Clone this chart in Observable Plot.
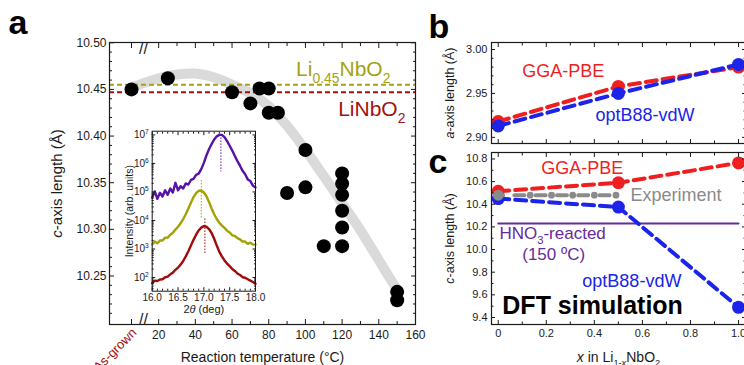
<!DOCTYPE html>
<html><head><meta charset="utf-8">
<script src="https://cdn.jsdelivr.net/npm/d3@7"></script>
<script src="https://cdn.jsdelivr.net/npm/@observablehq/plot@0.6"></script>
<style>
html,body{margin:0;padding:0;background:#fff;}
#fig{position:relative;width:744px;height:365px;overflow:hidden;background:#fff;}
#fig > svg{position:absolute;}
</style></head><body><div id="fig"></div>
<script>
// ---------- Panel a: c-axis length vs reaction temperature ----------
const asGrownT = 5.2;      // position of the "As-grown" sample on the broken axis
const breakT = 11.7;       // axis break marker
const tempC = [5.2, 25, 60, 70, 75, 80, 80, 85, 90, 100, 100, 110, 120, 120, 120, 120, 120, 120, 150, 150];
const cLen  = [10.450, 10.462, 10.447, 10.435, 10.451, 10.451, 10.425, 10.425, 10.339, 10.385, 10.345, 10.282, 10.360, 10.349, 10.337, 10.320, 10.302, 10.282, 10.233, 10.224];
const bandT = [5.2, 20, 30, 40, 50, 60, 70, 80, 90, 100, 110, 120, 130, 140, 150];
const bandC = [10.452, 10.462, 10.466, 10.467, 10.463, 10.455, 10.446, 10.432, 10.411, 10.385, 10.357, 10.328, 10.299, 10.267, 10.235];
const li045Level = 10.455;
const linbo2Level = 10.447;
const aXLabels = [20, 40, 60, 80, 100, 120, 140, 160];
const aXMajor = [5.2, 20, 40, 60, 80, 100, 120, 140, 160];
const aXMinor = [30, 50, 70, 90, 110, 130, 150];
const aYLabels = [10.25, 10.30, 10.35, 10.40, 10.45, 10.50];

// ---------- Inset: XRD peaks (log10 intensity) ----------
const theta = [16.00,16.05,16.10,16.15,16.20,16.25,16.30,16.35,16.40,16.45,16.50,16.55,16.60,16.65,16.70,16.75,16.80,16.85,16.90,16.95,17.00,17.05,17.10,17.15,17.20,17.25,17.30,17.35,17.40,17.45,17.50,17.55,17.60,17.65,17.70,17.75,17.80,17.85,17.90,17.95,18.00];
const logPurple = [4.80,5.02,4.76,4.97,4.84,5.06,4.90,5.12,4.98,5.32,5.06,5.20,5.12,5.30,5.26,5.42,5.46,5.60,5.64,5.80,6.02,6.28,6.50,6.68,6.84,6.95,7.00,7.00,6.92,6.78,6.62,6.45,6.26,6.08,5.92,5.74,5.62,5.44,5.38,5.22,5.16];
const logOlive  = [3.16,3.26,3.20,3.30,3.30,3.40,3.40,3.50,3.57,3.68,3.78,3.90,4.05,4.22,4.42,4.62,4.82,4.96,5.04,5.05,4.98,4.85,4.65,4.42,4.22,4.05,3.92,3.82,3.74,3.64,3.58,3.48,3.46,3.38,3.34,3.26,3.26,3.18,3.22,3.16,3.15];
const logRed    = [1.80,1.89,1.88,1.93,1.94,2.01,2.03,2.11,2.17,2.27,2.35,2.45,2.58,2.74,2.92,3.12,3.32,3.50,3.65,3.75,3.80,3.78,3.70,3.56,3.36,3.12,2.90,2.74,2.60,2.49,2.40,2.30,2.23,2.14,2.09,2.01,1.99,1.94,1.89,1.84,1.78];
const peakTheta = [17.33, 16.95, 17.02];
const peakTop = [7.0, 5.4, 4.05];
const peakBottom = [5.7, 4.07, 2.8];
const insetXLabels = [16.0, 16.5, 17.0, 17.5, 18.0];
const insetDecades = [2, 3, 4, 5, 6, 7];

// ---------- Panels b, c: DFT vs x in Li1-xNbO2 ----------
const xDFT = [0, 0.5, 1.0];
const aGGA = [2.918, 2.958, 2.980];
const aOpt = [2.913, 2.950, 2.983];
const cGGA = [10.515, 10.59, 10.765];
const cOpt = [10.45, 10.375, 9.49];
const expX = [0, 0.5];
const expLevel = 10.48;
const expDotX = [0.133, 0.222, 0.31, 0.40, 0.49];
const hno3X = [0, 1.0];
const hno3Level = 10.23;
const bcXLabels = [0, 0.2, 0.4, 0.6, 0.8, 1.0];
const bcXMinor = [0.1, 0.3, 0.5, 0.7, 0.9];
const bYLabels = [2.90, 2.95, 3.00];
const cYLabels = [9.4, 9.6, 9.8, 10.0, 10.2, 10.4, 10.6, 10.8];
const cYMinor = [9.5, 9.7, 9.9, 10.1, 10.3, 10.5, 10.7];

// ---------- styling ----------
const FONT = "'Liberation Sans', Arial, Helvetica, sans-serif";
const INK = "#1a1a1a";
const OLIVE = "#a3a312", DKRED = "#a3100f", RED = "#ef1f1f", BLUE = "#1b24e8",
      GRAY = "#8a8a8a", PURPLE = "#672a9e", XPURPLE = "#5712a6", XOLIVE = "#a2a200", XRED = "#a00b0b";

const r2 = v => Math.round(v * 100) / 100;
const aYMinor = d3.range(10.21, 10.495, 0.01).map(r2).filter(v => Math.round(v * 100) % 5 !== 0);
const bYMinor = d3.range(2.91, 2.995, 0.01).map(r2).filter(v => Math.round(v * 100) % 5 !== 0);
const insetXMinor = d3.range(16.1, 17.95, 0.1).map(v => Math.round(v * 10) / 10).filter(v => Math.round(v * 10) % 5 !== 0);
const insetYMajor = insetDecades.map(n => 10 ** n);
const insetYMinor = [];
for (let n = 1; n <= 6; n++) for (let k = 2; k <= 9; k++) { const v = k * 10 ** n; if (v > 10 ** 1.52) insetYMinor.push(v); }

function tickMarks(k, values, len, anchors) {
  const f = k === "x" ? Plot.axisX : Plot.axisY;
  return anchors.map(anchor => f(values, {anchor, tickSize: -len, fill: "none", label: null, stroke: INK, strokeWidth: 1}));
}
function tickLabels(k, values, anchor, pad, fmt, fontSize) {
  const f = k === "x" ? Plot.axisX : Plot.axisY;
  return f(values, {anchor, tickSize: 0, tickPadding: pad, tickFormat: fmt, label: null, fontSize, fill: INK});
}
const baseStyle = {fontFamily: FONT, fontSize: "12px", color: INK, background: "transparent", overflow: "visible"};

// rich text: segments "flags:text" joined by "|" ; s=sub, p=super, i=italic
function rich(svg) {
  d3.select(svg).selectAll("text").each(function () {
    const s = this.textContent;
    if (!s.includes("|")) return;
    const fs = parseFloat(getComputedStyle(this).fontSize) || 12;
    const sel = d3.select(this);
    sel.text(null);
    let shift = 0;
    for (const seg of s.split("|")) {
      const k = seg.indexOf(":");
      const flags = seg.slice(0, k), txt = seg.slice(k + 1);
      const t = sel.append("tspan").text(txt);
      let target = 0;
      if (flags.includes("s")) { target = 0.3 * fs; t.attr("font-size", 0.66 * fs); }
      if (flags.includes("p")) { target = -0.4 * fs; t.attr("font-size", 0.66 * fs); }
      if (flags.includes("i")) t.attr("font-style", "italic");
      if (target !== shift) { t.attr("dy", target - shift); shift = target; }
    }
  });
}

const fig = document.getElementById("fig");
function place(svg, left, top) {
  svg.style.left = left + "px"; svg.style.top = top + "px";
  fig.appendChild(svg); rich(svg);
}

// ---------- Panel a ----------
const ptsA = tempC.map((t, i) => ({t, c: cLen[i]}));
const bandA = bandT.map((t, i) => ({t, c: bandC[i]}));
const plotA = Plot.plot({
  width: 430, height: 365, marginLeft: 109, marginRight: 15, marginTop: 42, marginBottom: 41,
  style: baseStyle,
  x: {type: "linear", domain: [-6.8, 160]},
  y: {type: "linear", domain: [10.198, 10.5003]},
  marks: [
    Plot.line(bandA, {x: "t", y: "c", stroke: "#dadada", strokeWidth: 10, curve: "catmull-rom"}),
    Plot.ruleY([li045Level], {stroke: OLIVE, strokeWidth: 2, strokeDasharray: "5,3"}),
    Plot.ruleY([linbo2Level], {stroke: DKRED, strokeWidth: 2, strokeDasharray: "5,3"}),
    Plot.dot(ptsA, {x: "t", y: "c", r: 7, fill: "black"}),
    Plot.frame({stroke: INK, strokeWidth: 1.2}),
    ...tickMarks("x", aXMajor, 5, ["bottom", "top"]),
    ...tickMarks("x", aXMinor, 3, ["bottom", "top"]),
    ...tickMarks("y", aYLabels, 5, ["left", "right"]),
    ...tickMarks("y", aYMinor, 3, ["left", "right"]),
    tickLabels("x", aXLabels, "bottom", 6, d => String(d), 12),
    tickLabels("y", aYLabels, "left", 3, d => d.toFixed(2), 12),
    Plot.text(["//"], {x: [breakT], frameAnchor: "bottom", fontSize: 16, fill: INK}),
    Plot.text(["//"], {x: [breakT], frameAnchor: "top", fontSize: 16, fill: INK}),
    Plot.text(["As-grown"], {x: [asGrownT], frameAnchor: "bottom", rotate: -45, textAnchor: "end", lineAnchor: "middle", dx: 3, dy: 6, fontSize: 13, fill: DKRED}),
    Plot.text([":Li|s:0.45|:NbO|s:2"], {x: [146.3], y: [10.464], textAnchor: "end", lineAnchor: "bottom", fontSize: 21, fill: OLIVE}),
    Plot.text([":LiNbO|s:2"], {x: [154.5], y: [10.421], textAnchor: "end", lineAnchor: "bottom", fontSize: 21, fill: DKRED}),
    Plot.text(["i:c|:-axis length (Å)"], {frameAnchor: "left", dx: -52, rotate: -90, textAnchor: "middle", fontSize: 15, fill: INK}),
    Plot.text(["Reaction temperature (°C)"], {frameAnchor: "bottom", dy: 37, textAnchor: "middle", lineAnchor: "bottom", fontSize: 14, fill: INK}),
    Plot.text(["a"], {frameAnchor: "top-left", dx: -101, dy: -9, textAnchor: "start", lineAnchor: "bottom", fontSize: 34, fontWeight: "bold", fill: "black"})
  ]
});
place(plotA, 0, 0);

// ---------- Inset ----------
const mk = arr => theta.map((t, i) => ({t, v: 10 ** arr[i]}));
const peaks = peakTheta.map((t, i) => ({t, y1: 10 ** peakTop[i], y2: 10 ** peakBottom[i], c: [XPURPLE, XOLIVE, XRED][i]}));
const plotInset = Plot.plot({
  width: 160, height: 200, marginLeft: 41.7, marginRight: 15, marginTop: 10.7, marginBottom: 29.3,
  style: baseStyle,
  x: {type: "linear", domain: [16, 18]},
  y: {type: "log", domain: [10 ** 1.52, 10 ** 7.13]},
  marks: [
    Plot.frame({fill: "white", stroke: "none"}),
    Plot.line(mk(logPurple), {x: "t", y: "v", stroke: XPURPLE, strokeWidth: 2.4}),
    Plot.line(mk(logOlive), {x: "t", y: "v", stroke: XOLIVE, strokeWidth: 2.4}),
    Plot.line(mk(logRed), {x: "t", y: "v", stroke: XRED, strokeWidth: 2.4}),
    Plot.ruleX(peaks, {x: "t", y1: "y1", y2: "y2", stroke: "c", strokeWidth: 1, strokeDasharray: "1.5,1.5"}),
    Plot.frame({stroke: INK, strokeWidth: 1}),
    ...tickMarks("x", insetXLabels, 3.5, ["bottom", "top"]),
    ...tickMarks("x", insetXMinor, 2, ["bottom", "top"]),
    ...tickMarks("y", insetYMajor, 3.5, ["left", "right"]),
    ...tickMarks("y", insetYMinor, 2, ["left", "right"]),
    tickLabels("x", insetXLabels, "bottom", 2.5, d => d.toFixed(1), 10),
    tickLabels("y", insetYMajor, "left", 3.5, d => ":10|p:" + Math.round(Math.log10(d)), 10),
    Plot.text(["Intensity (arb. units)"], {frameAnchor: "left", dx: -23, rotate: -90, textAnchor: "middle", fontSize: 10.5, fill: INK}),
    Plot.text([":2|i:θ|: (deg)"], {frameAnchor: "bottom", dy: 21.5, textAnchor: "middle", lineAnchor: "bottom", fontSize: 11, fill: INK})
  ]
});
place(plotInset, 110, 120);

// ---------- Panel b ----------
const row = (xs, ys) => xs.map((x, i) => ({x, y: ys[i]}));
const plotB = Plot.plot({
  width: 340, height: 148, marginLeft: 71, marginRight: 15, marginTop: 42, marginBottom: 5,
  style: baseStyle,
  x: {type: "linear", domain: [-0.028, 1.029]},
  y: {type: "linear", domain: [2.893, 3.008]},
  marks: [
    Plot.line(row(xDFT, aGGA), {x: "x", y: "y", stroke: RED, strokeWidth: 4, strokeDasharray: "11,6"}),
    Plot.dot(row(xDFT, aGGA), {x: "x", y: "y", r: 6.5, fill: RED}),
    Plot.line(row(xDFT, aOpt), {x: "x", y: "y", stroke: BLUE, strokeWidth: 4, strokeDasharray: "11,6"}),
    Plot.dot(row(xDFT, aOpt), {x: "x", y: "y", r: 6.5, fill: BLUE}),
    Plot.frame({stroke: INK, strokeWidth: 1.2}),
    ...tickMarks("x", bcXLabels, 4, ["bottom", "top"]),
    ...tickMarks("x", bcXMinor, 2.5, ["bottom", "top"]),
    ...tickMarks("y", bYLabels, 4, ["left", "right"]),
    ...tickMarks("y", bYMinor, 2.5, ["left", "right"]),
    tickLabels("y", bYLabels, "left", 4, d => d.toFixed(2), 11),
    Plot.text(["GGA-PBE"], {x: [0.10], y: [2.9685], textAnchor: "start", lineAnchor: "bottom", fontSize: 18, fill: RED}),
    Plot.text(["optB88-vdW"], {x: [0.405], y: [2.919], textAnchor: "start", lineAnchor: "bottom", fontSize: 18, fill: BLUE}),
    Plot.text(["i:a|:-axis length (Å)"], {frameAnchor: "left", dx: -42, rotate: -90, textAnchor: "middle", fontSize: 12.5, fill: INK}),
    Plot.text(["b"], {frameAnchor: "top-left", dx: -63, dy: -5, textAnchor: "start", lineAnchor: "bottom", fontSize: 34, fontWeight: "bold", fill: "black"})
  ]
});
place(plotB, 420, 0);

// ---------- Panel c ----------
const plotC = Plot.plot({
  width: 340, height: 219, marginLeft: 71, marginRight: 15, marginTop: 6, marginBottom: 41,
  style: baseStyle,
  x: {type: "linear", domain: [-0.028, 1.029]},
  y: {type: "linear", domain: [9.338, 10.857]},
  marks: [
    Plot.line(row(hno3X, hno3X.map(() => hno3Level)), {x: "x", y: "y", stroke: PURPLE, strokeWidth: 2}),
    Plot.line(row(xDFT, cGGA), {x: "x", y: "y", stroke: RED, strokeWidth: 4, strokeDasharray: "11,6"}),
    Plot.dot(row(xDFT, cGGA), {x: "x", y: "y", r: 6.5, fill: RED}),
    Plot.line(row(xDFT, cOpt), {x: "x", y: "y", stroke: BLUE, strokeWidth: 4, strokeDasharray: "11,6"}),
    Plot.dot(row(xDFT, cOpt), {x: "x", y: "y", r: 6.5, fill: BLUE}),
    Plot.line(row(expX, expX.map(() => expLevel)), {x: "x", y: "y", stroke: GRAY, strokeWidth: 4, strokeDasharray: "10,11.3", strokeDashoffset: 5.2}),
    Plot.dot(row(expDotX, expDotX.map(() => expLevel)), {x: "x", y: "y", r: 3.4, fill: GRAY}),
    Plot.dot(row([expX[0]], [expLevel]), {x: "x", y: "y", r: 5.5, fill: GRAY}),
    Plot.frame({stroke: INK, strokeWidth: 1.2}),
    ...tickMarks("x", bcXLabels, 4, ["bottom", "top"]),
    ...tickMarks("x", bcXMinor, 2.5, ["bottom", "top"]),
    ...tickMarks("y", cYLabels, 4, ["left", "right"]),
    ...tickMarks("y", cYMinor, 2.5, ["left", "right"]),
    tickLabels("x", bcXLabels, "bottom", 5, d => d === 0 ? "0" : d.toFixed(1), 11),
    tickLabels("y", cYLabels, "left", 4, d => d.toFixed(1), 11),
    Plot.text(["GGA-PBE"], {x: [0.179], y: [10.669], textAnchor: "start", lineAnchor: "bottom", fontSize: 18, fill: RED}),
    Plot.text(["Experiment"], {x: [0.55], y: [10.433], textAnchor: "start", lineAnchor: "bottom", fontSize: 18, fill: GRAY}),
    Plot.text([":HNO|s:3|:-reacted"], {x: [0.005], y: [10.095], textAnchor: "start", lineAnchor: "bottom", fontSize: 17, fill: PURPLE}),
    Plot.text(["(150 ºC)"], {x: [0.10], y: [9.905], textAnchor: "start", lineAnchor: "bottom", fontSize: 17, fill: PURPLE}),
    Plot.text(["optB88-vdW"], {x: [0.35], y: [9.667], textAnchor: "start", lineAnchor: "bottom", fontSize: 18, fill: BLUE}),
    Plot.text(["DFT simulation"], {x: [0.017], y: [9.435], textAnchor: "start", lineAnchor: "bottom", fontSize: 25, fontWeight: "bold", fill: "black"}),
    Plot.text(["i:c|:-axis length (Å)"], {frameAnchor: "left", dx: -42, rotate: -90, textAnchor: "middle", fontSize: 12.5, fill: INK}),
    Plot.text(["i:x|: in Li|s:1-|si:x|:NbO|s:2"], {frameAnchor: "bottom", dy: 37.5, textAnchor: "middle", lineAnchor: "bottom", fontSize: 14, fill: INK}),
    Plot.text(["c"], {frameAnchor: "top-left", dx: -63, dy: 20, textAnchor: "start", lineAnchor: "bottom", fontSize: 34, fontWeight: "bold", fill: "black"})
  ]
});
place(plotC, 420, 146);
</script></body></html>
